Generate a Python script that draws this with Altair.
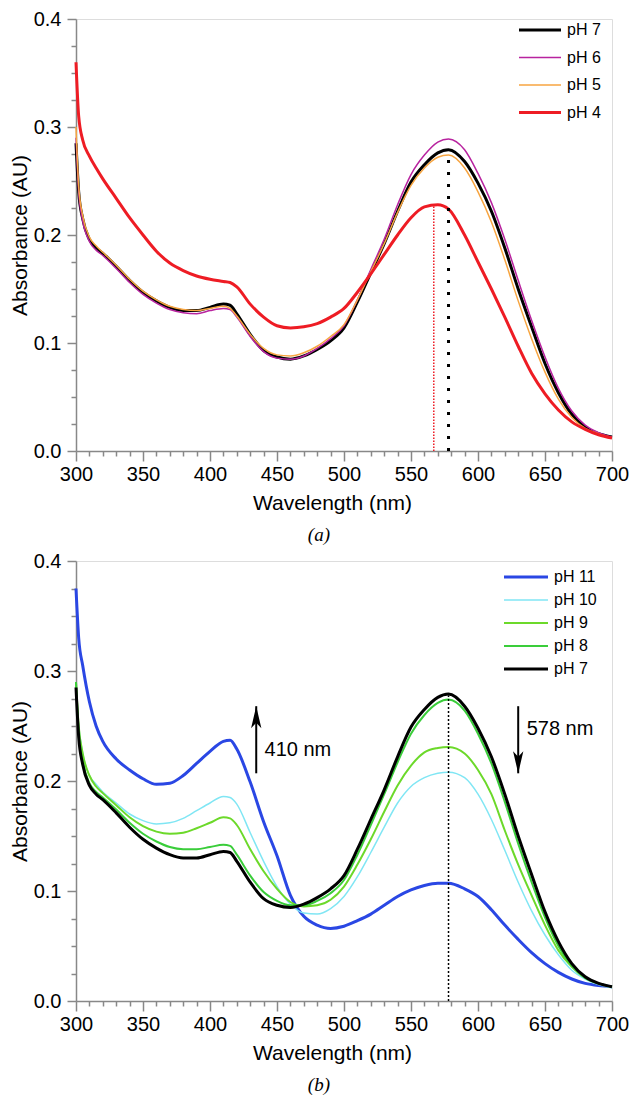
import altair as alt
import pandas as pd

# ---------------- data ----------------
wavelength = [300, 302, 305, 310, 315, 320, 330, 340, 350, 360, 370, 380, 390, 400,
              410, 415, 420, 430, 440, 450, 460, 470, 480, 490, 500, 510, 520, 530,
              540, 550, 560, 570, 578, 590, 600, 610, 620, 630, 640, 650, 660, 670,
              680, 690, 700]

ph7 = [0.285, 0.24, 0.215, 0.196, 0.188, 0.183, 0.171, 0.158, 0.147, 0.139, 0.133, 0.13,
       0.130, 0.133, 0.136, 0.135, 0.127, 0.108, 0.093, 0.087, 0.085, 0.088, 0.094, 0.102,
       0.114, 0.138, 0.165, 0.192, 0.222, 0.249, 0.265, 0.276, 0.279, 0.268, 0.248, 0.222,
       0.188, 0.15, 0.115, 0.081, 0.054, 0.034, 0.022, 0.016, 0.013]
ph6 = [0.29, 0.24, 0.213, 0.194, 0.186, 0.181, 0.169, 0.156, 0.145, 0.137, 0.131, 0.128,
       0.127, 0.13, 0.132, 0.131, 0.124, 0.106, 0.092, 0.086, 0.085, 0.088, 0.095, 0.104,
       0.116, 0.14, 0.168, 0.196, 0.228, 0.256, 0.274, 0.286, 0.289, 0.279, 0.257, 0.23,
       0.196, 0.158, 0.121, 0.087, 0.058, 0.037, 0.024, 0.017, 0.013]
ph5 = [0.30, 0.245, 0.218, 0.198, 0.19, 0.184, 0.172, 0.159, 0.148, 0.14, 0.134, 0.131,
       0.13, 0.132, 0.134, 0.132, 0.125, 0.108, 0.095, 0.089, 0.088, 0.091, 0.097, 0.106,
       0.117, 0.14, 0.166, 0.192, 0.221, 0.246, 0.262, 0.272, 0.274, 0.262, 0.24, 0.212,
       0.177, 0.139, 0.104, 0.073, 0.048, 0.031, 0.021, 0.016, 0.012]
ph4 = [0.36, 0.31, 0.288, 0.273, 0.262, 0.252, 0.234, 0.216, 0.2, 0.185, 0.174, 0.167,
       0.162, 0.159, 0.157, 0.156, 0.152, 0.136, 0.124, 0.116, 0.114, 0.115, 0.118, 0.124,
       0.132, 0.147, 0.164, 0.182, 0.2, 0.216, 0.226, 0.228, 0.224, 0.2, 0.175, 0.15,
       0.124, 0.097, 0.072, 0.053, 0.038, 0.027, 0.02, 0.015, 0.012]
ph8 = [0.29, 0.245, 0.218, 0.198, 0.19, 0.185, 0.174, 0.162, 0.152, 0.145, 0.14, 0.138,
       0.138, 0.14, 0.142, 0.141, 0.133, 0.114, 0.099, 0.091, 0.087, 0.087, 0.091, 0.098,
       0.11, 0.133, 0.16, 0.188, 0.217, 0.243, 0.26, 0.271, 0.274, 0.264, 0.243, 0.216,
       0.181, 0.143, 0.108, 0.076, 0.05, 0.032, 0.021, 0.016, 0.013]
ph9 = [0.29, 0.25, 0.225, 0.205, 0.195, 0.189, 0.178, 0.167, 0.159, 0.154, 0.152, 0.153,
       0.157, 0.162, 0.167, 0.166, 0.16, 0.138, 0.118, 0.102, 0.09, 0.086, 0.087, 0.092,
       0.104, 0.124, 0.147, 0.172, 0.196, 0.214, 0.226, 0.23, 0.231, 0.225, 0.21, 0.188,
       0.155, 0.124, 0.096, 0.069, 0.046, 0.031, 0.021, 0.016, 0.013]
ph10 = [0.28, 0.25, 0.225, 0.205, 0.197, 0.19, 0.18, 0.17, 0.164, 0.161, 0.162, 0.166,
        0.173, 0.18, 0.186, 0.185, 0.179, 0.153, 0.127, 0.104, 0.088, 0.08, 0.079, 0.084,
        0.095, 0.113, 0.135, 0.158, 0.18, 0.195, 0.203, 0.207, 0.208, 0.203, 0.188, 0.165,
        0.137, 0.108, 0.082, 0.06, 0.042, 0.028, 0.02, 0.015, 0.012]
ph11 = [0.375, 0.33, 0.305, 0.272, 0.25, 0.236, 0.22, 0.21, 0.202, 0.197, 0.198, 0.205,
        0.216, 0.227, 0.236, 0.237, 0.229, 0.199, 0.163, 0.132, 0.096, 0.077, 0.069, 0.066,
        0.068, 0.073, 0.079, 0.087, 0.095, 0.101, 0.105, 0.107, 0.107, 0.102, 0.095, 0.083,
        0.069, 0.056, 0.044, 0.034, 0.026, 0.02, 0.016, 0.014, 0.013]

series_a = ["pH 7", "pH 6", "pH 5", "pH 4"]
colors_a = ["#000000", "#b8239f", "#f7a541", "#ee1c24"]
widths_a = [3, 1.5, 1.5, 3]

series_b = ["pH 11", "pH 10", "pH 9", "pH 8", "pH 7"]
colors_b = ["#2a47e4", "#80e6f4", "#6cd92a", "#3acd3a", "#000000"]
widths_b = [3, 1.5, 2, 2, 3]

# dotted marker lines (wavelength, top absorbance)
marker_a_black = {"wl": [578], "top": [0.279]}
marker_a_red = {"wl": [567], "top": [0.228]}
marker_b_black = {"wl": [578], "top": [0.278]}

# arrows in panel b
arrow_wl = [434.5, 630.0]
arrow_from = [0.207, 0.268]
arrow_to = [0.268, 0.207]
arrow_angle = [0, 180]
label_text = ["410 nm", "578 nm"]
label_wl = [440.7, 636.3]
label_abs = [0.228, 0.247]

x_major = list(range(300, 701, 50))
x_minor = [v for v in range(300, 701, 10) if v % 50 != 0]
y_major = [0.0, 0.1, 0.2, 0.3, 0.4]
y_minor = [0.025, 0.05, 0.075, 0.125, 0.15, 0.175, 0.225, 0.25, 0.275, 0.325, 0.35, 0.375]

FONT = "Liberation Sans"
SERIF = "Liberation Serif"
PLOT_W = 536


def long_df(names, arrays, widths):
    rows = []
    for name, vals, w in zip(names, arrays, widths):
        for wl, v in zip(wavelength, vals):
            rows.append({"wavelength": wl, "absorbance": v, "series": name, "sw": w})
    return pd.DataFrame(rows)


df_a = long_df(series_a, [ph7, ph6, ph5, ph4], widths_a)
df_b = long_df(series_b, [ph11, ph10, ph9, ph8, ph7], widths_b)

xs = alt.Scale(domain=[300, 700], nice=False, zero=False)
ys = alt.Scale(domain=[0, 0.4], nice=False, zero=True)

x_axis_major = alt.Axis(orient="bottom", values=x_major, tickSize=10, tickWidth=1.5,
                        labelFontSize=20, labelPadding=3, labelFlush=False,
                        titleFontSize=21, titleFontWeight="normal", titlePadding=8,
                        titleX=256, domainWidth=1.5, grid=False)
y_axis_major = alt.Axis(orient="left", values=y_major, format=".1f", tickSize=9,
                        tickWidth=1.5, labelFontSize=20, labelPadding=6,
                        labelFlush=False, titleFontSize=21, titleFontWeight="normal",
                        titlePadding=3, domainWidth=1.5, grid=False)
x_axis_minor = alt.Axis(orient="bottom", values=x_minor, tickSize=5, tickWidth=1.5,
                        labels=False, domain=False, grid=False)
y_axis_minor = alt.Axis(orient="left", values=y_minor, tickSize=5, tickWidth=1.5,
                        labels=False, domain=False, grid=False)


def width_expr(names, widths):
    # per-entry legend stroke width (thick / thin sample lines)
    expr = str(widths[-1])
    for n, w in reversed(list(zip(names[:-1], widths[:-1]))):
        expr = f"datum.value === '{n}' ? {w} : ({expr})"
    return expr


def panel(df, names, colors, widths, legend_x, legend_y, row_pad, sym_size,
          label_offset, markers):
    minor = alt.Chart(df).mark_point(opacity=0).encode(
        x=alt.X("wavelength:Q", scale=xs, axis=x_axis_minor, title=None),
        y=alt.Y("absorbance:Q", scale=ys, axis=y_axis_minor, title=None),
    )
    leg = alt.Legend(orient="none", legendX=legend_x, legendY=legend_y, title=None,
                     symbolType="stroke", symbolSize=sym_size, labelFontSize=16,
                     labelFont=FONT, labelColor="black", rowPadding=row_pad,
                     labelOffset=label_offset, padding=0,
                     symbolStrokeWidth=alt.ExprRef(width_expr(names, widths)))
    lines = alt.Chart(df).mark_line(interpolate="monotone").encode(
        x=alt.X("wavelength:Q", scale=xs, axis=x_axis_major, title="Wavelength (nm)"),
        y=alt.Y("absorbance:Q", scale=ys, axis=y_axis_major, title="Absorbance (AU)"),
        color=alt.Color("series:N", scale=alt.Scale(domain=names, range=colors),
                        legend=leg),
        strokeWidth=alt.StrokeWidth("sw:Q", scale=None),
        detail="series:N",
    )
    layers = [minor, lines]
    for m, color, dash, sw in markers:
        mdf = pd.DataFrame({"wl": m["wl"], "top": m["top"], "base": [0.0] * len(m["wl"])})
        layers.append(
            alt.Chart(mdf).mark_rule(color=color, strokeDash=dash, strokeWidth=sw).encode(
                x=alt.X("wl:Q", scale=xs, axis=None),
                y=alt.Y("base:Q", scale=ys, axis=None),
                y2="top:Q",
            )
        )
    return layers


layers_a = panel(df_a, series_a, colors_a, widths_a, 456, 3, 11.5, 1764, 19,
                 [(marker_a_red, "#ee1c24", [1.5, 1.5], 1.5),
                  (marker_a_black, "black", [3, 9], 3)])
layers_b = panel(df_b, series_b, colors_b, widths_b, 442, 8, 7, 1936, 20,
                 [(marker_b_black, "black", [2, 2], 1.5)])

arrows = pd.DataFrame({"wl": arrow_wl, "a0": arrow_from, "a1": arrow_to,
                       "ang": arrow_angle})
labels = pd.DataFrame({"wl": label_wl, "abs": label_abs, "txt": label_text})

shafts = alt.Chart(arrows).mark_rule(color="black", strokeWidth=2).encode(
    x=alt.X("wl:Q", scale=xs, axis=None),
    y=alt.Y("a0:Q", scale=ys, axis=None),
    y2="a1:Q",
)
heads = alt.Chart(arrows).mark_point(
    shape="M0,0 L0.42,1.8 L0,1.35 L-0.42,1.8 Z", filled=True, color="black",
    opacity=1, size=600, strokeWidth=0.5,
).encode(
    x=alt.X("wl:Q", scale=xs, axis=None),
    y=alt.Y("a1:Q", scale=ys, axis=None),
    angle=alt.Angle("ang:Q", scale=None),
)
texts = alt.Chart(labels).mark_text(font=FONT, fontSize=20, align="left",
                                    baseline="middle", color="black").encode(
    x=alt.X("wl:Q", scale=xs, axis=None),
    y=alt.Y("abs:Q", scale=ys, axis=None),
    text="txt:N",
)


def caption(t):
    return alt.TitleParams(text=t, orient="bottom", anchor="middle", frame="bounds",
                           font=SERIF, fontStyle="italic", fontWeight="normal",
                           fontSize=19, offset=13, color="black")


panel_a = alt.layer(*layers_a).resolve_axis(x="independent", y="independent").properties(
    width=PLOT_W, height=432, title=caption("(a)"))
panel_b = alt.layer(*layers_b, shafts, heads, texts).resolve_axis(
    x="independent", y="independent").properties(
    width=PLOT_W, height=440, title=caption("(b)"))

chart = alt.vconcat(panel_a, panel_b, spacing=4).resolve_scale(
    color="independent"
).properties(
    padding={"left": 0, "top": 0, "right": 0, "bottom": 0}
).configure_view(
    stroke="black", strokeWidth=1.5
).configure_axis(
    domainColor="black", tickColor="black", labelColor="black", titleColor="black",
    labelFont=FONT, titleFont=FONT, titleFontWeight="normal"
).configure(background="white")

chart.save("out.html", embed_options={"renderer": "svg", "actions": False})
